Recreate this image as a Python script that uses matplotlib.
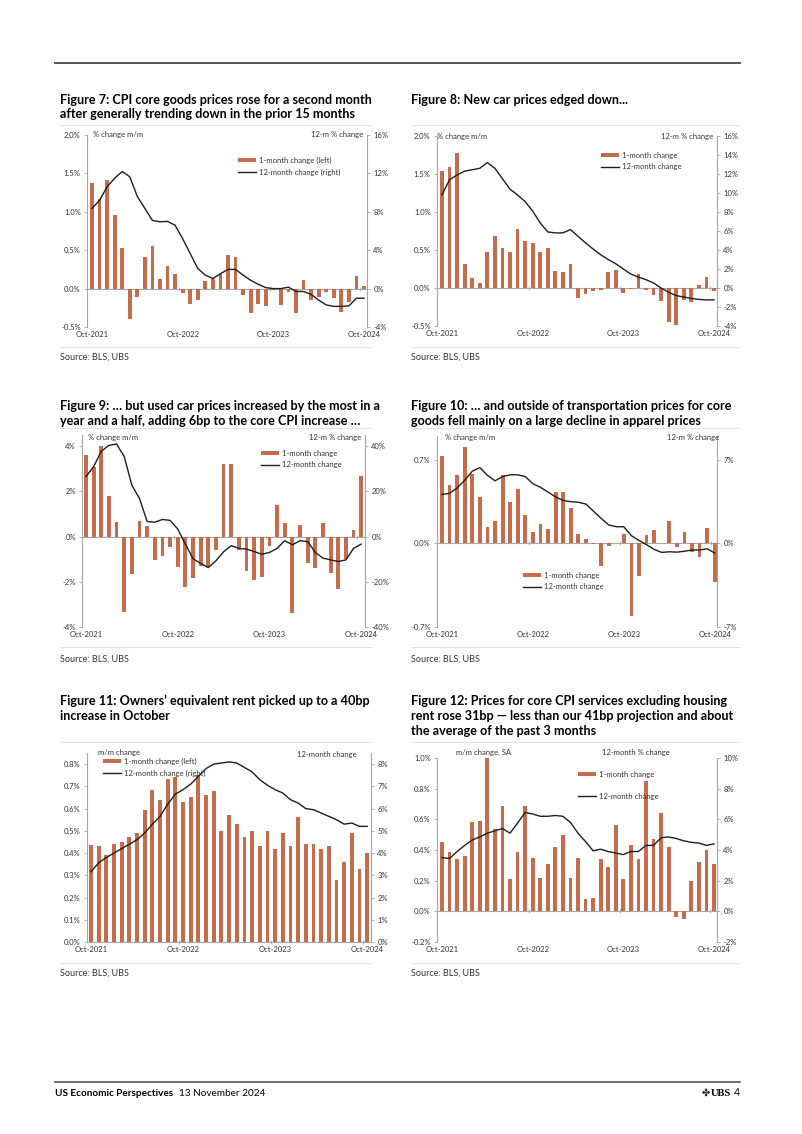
import matplotlib
matplotlib.use('Agg')
import matplotlib.pyplot as plt
from matplotlib.patches import Patch
from matplotlib.lines import Line2D
from matplotlib.ticker import FuncFormatter
import numpy as np

plt.rcParams['font.family'] = ['Lato', 'DejaVu Sans']

W, H = 802, 1134
BAR = '#c46c4c'
LINE = '#1e1e1e'
GREY = '#a6a6a6'
TXT = '#333333'

# Oct-2021 .. Oct-2024, monthly
x = np.arange(37)
xtick_pos = [0, 12, 24, 36]
xtick_lab = ['Oct-2021', 'Oct-2022', 'Oct-2023', 'Oct-2024']

# Figure 7: core goods
c7_bar = [1.37, 1.17, 1.41, 0.96, 0.53, -0.40, -0.11, 0.41, 0.55, 0.12, 0.30, 0.19, -0.06,
          -0.20, -0.15, 0.10, 0.13, 0.19, 0.44, 0.41, -0.08, -0.32, -0.20, -0.23, -0.02, -0.22,
          -0.05, -0.32, 0.11, -0.15, -0.11, -0.05, -0.12, -0.31, -0.17, 0.17, 0.04]
c7_line = [8.35, 9.2, 10.6, 11.5, 12.2, 11.65, 9.6, 8.35, 7.1, 6.96, 7.0, 6.6, 5.2, 3.65, 2.1,
           1.4, 1.05, 1.55, 2.0, 2.0, 1.4, 0.87, 0.45, 0.1, 0.0, 0.0, 0.15, -0.3, -0.3, -0.6,
           -1.2, -1.7, -1.85, -1.85, -1.8, -1.0, -1.0]

# Figure 8: new cars
c8_bar = [1.54, 1.59, 1.77, 0.32, 0.13, 0.07, 0.47, 0.68, 0.53, 0.48, 0.78, 0.62, 0.59, 0.48,
          0.53, 0.22, 0.21, 0.31, -0.13, -0.08, -0.04, -0.03, 0.21, 0.24, -0.06, -0.01, 0.18,
          -0.03, -0.09, -0.17, -0.45, -0.49, -0.16, -0.19, 0.04, 0.15, -0.04]
c8_line = [9.8, 11.4, 11.9, 12.3, 12.45, 12.6, 13.2, 12.6, 11.5, 10.4, 9.8, 9.1, 8.1, 6.85, 5.9,
           5.8, 5.8, 6.15, 5.45, 4.75, 4.1, 3.5, 3.0, 2.55, 2.0, 1.47, 1.15, 0.88, 0.53, 0.0,
           -0.45, -0.8, -0.95, -1.1, -1.2, -1.25, -1.25]

# Figure 9: used cars
c9_bar = [3.6, 3.1, 4.0, 1.8, 0.63, -3.35, -1.67, 0.7, 0.47, -1.05, -0.85, -0.45, -1.35, -2.25,
          -1.85, -1.3, -1.35, -0.6, 3.2, 3.2, -0.6, -1.5, -1.9, -1.8, -0.4, 1.4, 0.6, -3.4, 0.5,
          -1.15, -1.4, 0.6, -1.6, -2.3, -1.0, 0.3, 2.7]
c9_line = [26.6, 31.0, 37.8, 40.4, 41.0, 35.5, 22.8, 16.9, 6.7, 6.4, 7.6, 7.2, 3.4, -3.3, -9.7,
           -11.9, -13.7, -10.7, -6.7, -4.0, -5.2, -5.5, -6.6, -7.8, -7.0, -5.2, -1.8, -3.6, -1.8,
           -2.2, -7.0, -9.5, -10.3, -11.0, -10.3, -5.2, -3.3]

# Figure 10: core goods ex transportation
c10_bar = [0.73, 0.49, 0.57, 0.81, 0.58, 0.39, 0.14, 0.19, 0.57, 0.35, 0.46, 0.24, 0.10, 0.16,
           0.12, 0.43, 0.43, 0.30, 0.08, 0.04, -0.004, -0.19, -0.02, 0.0, 0.08, -0.61, -0.27,
           0.07, 0.11, 0.0, 0.19, -0.03, 0.10, -0.07, -0.11, 0.13, -0.32]
c10_line = [4.1, 4.2, 4.65, 5.3, 6.05, 6.35, 5.7, 5.25, 5.6, 5.75, 5.75, 5.6, 5.0, 4.7, 4.3, 3.9,
            3.6, 3.5, 3.45, 3.3, 2.7, 2.1, 1.55, 1.4, 1.4, 0.65, 0.25, -0.1, -0.5, -0.75, -0.7,
            -0.73, -0.65, -0.55, -0.55, -0.45, -0.8]

# Figure 11: owners' equivalent rent
c11_bar = [0.435, 0.43, 0.39, 0.44, 0.45, 0.47, 0.49, 0.595, 0.685, 0.64, 0.735, 0.74, 0.63,
           0.65, 0.75, 0.66, 0.68, 0.50, 0.57, 0.53, 0.47, 0.50, 0.43, 0.50, 0.42, 0.49, 0.43,
           0.56, 0.44, 0.44, 0.42, 0.43, 0.28, 0.36, 0.49, 0.33, 0.40]
c11_line = [3.16, 3.56, 3.8, 4.0, 4.2, 4.4, 4.6, 4.9, 5.3, 5.65, 6.2, 6.65, 6.85, 7.1, 7.45, 7.8,
            8.0, 8.05, 8.1, 8.05, 7.85, 7.65, 7.3, 7.05, 6.85, 6.7, 6.4, 6.25, 6.0, 5.95, 5.8,
            5.65, 5.5, 5.3, 5.35, 5.2, 5.2]

# Figure 12: core services ex housing
c12_bar = [0.45, 0.39, 0.34, 0.36, 0.58, 0.59, 1.01, 0.54, 0.69, 0.21, 0.39, 0.69, 0.35, 0.22,
           0.31, 0.42, 0.50, 0.22, 0.35, 0.08, 0.09, 0.34, 0.29, 0.56, 0.21, 0.43, 0.34, 0.85,
           0.47, 0.64, 0.42, -0.04, -0.05, 0.20, 0.32, 0.40, 0.31]
c12_line = [3.5, 3.45, 3.9, 4.3, 4.65, 4.85, 5.1, 5.25, 5.4, 5.1, 5.75, 6.45, 6.35, 6.2, 6.2,
            6.25, 6.2, 5.8, 5.1, 4.55, 3.95, 4.05, 3.9, 3.8, 3.7, 3.9, 3.9, 4.3, 4.3, 4.8, 4.85,
            4.75, 4.6, 4.5, 4.45, 4.3, 4.4]


def fx(px):
    return px / W


def fy(py):
    return 1 - py / H


def box(l, t, r, b):
    return [l / W, 1 - b / H, (r - l) / W, (b - t) / H]


def ftext(px, py, s, **kw):
    kw.setdefault('va', 'center')
    kw.setdefault('color', TXT)
    return fig.text(fx(px), fy(py), s, **kw)


def hline(x0, x1, py, color, lw):
    fig.add_artist(Line2D([fx(x0), fx(x1)], [fy(py), fy(py)], color=color, lw=lw,
                          transform=fig.transFigure))


def panel(rect, xlim, bars, line, ylim, yticks, lfmt, ylim2, yticks2, rfmt,
          leg_xy, leg_labels, leg_space=0.55):
    ax = fig.add_axes(box(*rect))
    ax.bar(x, bars, width=0.5, color=BAR, zorder=2)
    ax.set_xlim(*xlim)
    ax.set_ylim(*ylim)
    ax.set_yticks(yticks)
    ax.yaxis.set_major_formatter(FuncFormatter(lambda v, p: lfmt.format(v)))
    ax.set_xticks(xtick_pos)
    ax.set_xticklabels(xtick_lab)
    for s in ['top', 'bottom', 'right']:
        ax.spines[s].set_visible(False)
    ax.spines['left'].set_color(GREY)
    ax.spines['left'].set_linewidth(0.8)
    ax.tick_params(axis='y', direction='out', length=2.5, width=0.6, color=GREY,
                   labelsize=5.5, labelcolor=TXT, pad=2)
    ax.tick_params(axis='x', length=0, labelsize=5.5, labelcolor=TXT, pad=3)

    # zero line with small ticks between years
    sec = ax.secondary_xaxis(0, transform=ax.transData)
    sec.set_xticks([11.5, 23.5, 35.5])
    sec.tick_params(length=3, width=0.6, direction='inout', color=GREY, labelbottom=False)
    for s in sec.spines.values():
        s.set_color(GREY)
        s.set_linewidth(0.8)

    ax2 = ax.twinx()
    ax2.plot(x, line, color=LINE, lw=1.0, zorder=3)
    ax2.set_ylim(*ylim2)
    ax2.set_yticks(yticks2)
    ax2.yaxis.set_major_formatter(FuncFormatter(lambda v, p: rfmt.format(v)))
    for s in ['top', 'bottom', 'left']:
        ax2.spines[s].set_visible(False)
    ax2.spines['right'].set_color(GREY)
    ax2.spines['right'].set_linewidth(0.8)
    ax2.tick_params(axis='y', direction='out', length=2.5, width=0.6, color=GREY,
                    labelsize=5.5, labelcolor=TXT, pad=2)

    handles = [Patch(facecolor=BAR, edgecolor='none'), Line2D([], [], color=LINE, lw=1.0)]
    fig.legend(handles, leg_labels, loc='upper left',
               bbox_to_anchor=(fx(leg_xy[0]), fy(leg_xy[1])), frameon=False,
               fontsize=5.5, handlelength=2.4, handleheight=0.45, handletextpad=0.3,
               labelspacing=leg_space, borderpad=0, borderaxespad=0, labelcolor=TXT)
    return ax, ax2


fig = plt.figure(figsize=(W / 100, H / 100), dpi=100)

# page header line
hline(55, 740, 63, '#555555', 1.4)

TS = 9.1  # title size
SS = 6.5  # source size

# ---- Figure 7
ftext(60, 100, 'Figure 7: CPI core goods prices rose for a second month', fontsize=TS,
      fontweight='bold', color='black')
ftext(60, 114.5, 'after generally trending down in the prior 15 months', fontsize=TS,
      fontweight='bold', color='black')
hline(60, 372, 125, '#e2e2e2', 0.8)
panel((87, 135, 367, 327), (-0.66, 36.4), c7_bar, c7_line, (-0.5, 2.0),
      [-0.5, 0, 0.5, 1.0, 1.5, 2.0], '{:.1f}%', (-4, 16), [-4, 0, 4, 8, 12, 16], '{:.0f}%',
      (238, 157), ['1-month change (left)', '12-month change (right)'])
ftext(93, 135, '% change m/m', fontsize=5.5)
ftext(363, 135, '12-m % change', fontsize=5.5, ha='right')
hline(60, 372, 347, '#e2e2e2', 0.8)
ftext(60, 357, 'Source: BLS, UBS', fontsize=SS)

# ---- Figure 8
ftext(411, 100, 'Figure 8: New car prices edged down...', fontsize=TS, fontweight='bold',
      color='black')
hline(411, 740, 125, '#e2e2e2', 0.8)
panel((437, 136, 717, 326), (-0.66, 36.4), c8_bar, c8_line, (-0.5, 2.0),
      [-0.5, 0, 0.5, 1.0, 1.5, 2.0], '{:.1f}%', (-4, 16), list(range(-4, 17, 2)), '{:.0f}%',
      (601, 152), ['1-month change', '12-month change'])
ftext(437, 136, '% change m/m', fontsize=5.5)
ftext(713, 136, '12-m % change', fontsize=5.5, ha='right')
hline(411, 740, 347, '#e2e2e2', 0.8)
ftext(411, 357, 'Source: BLS, UBS', fontsize=SS)

# ---- Figure 9
ftext(60, 406, 'Figure 9: \u2026 but used car prices increased by the most in a', fontsize=TS,
      fontweight='bold', color='black')
ftext(60, 421, 'year and a half, adding 6bp to the core CPI increase \u2026', fontsize=TS,
      fontweight='bold', color='black')
hline(60, 372, 428, '#e2e2e2', 0.8)
panel((82, 435, 365, 627), (-0.52, 36.5), c9_bar, c9_line, (-4, 4.5),
      [-4, -2, 0, 2, 4], '{:.0f}%', (-40, 45), [-40, -20, 0, 20, 40], '{:.0f}%',
      (261, 450), ['1-month change', '12-month change'])
ftext(88, 437, '% change m/m', fontsize=5.5)
ftext(361, 437, '12-m % change', fontsize=5.5, ha='right')
hline(60, 372, 647, '#e2e2e2', 0.8)
ftext(60, 659, 'Source: BLS, UBS', fontsize=SS)

# ---- Figure 10
ftext(411, 406, 'Figure 10: \u2026 and outside of transportation prices for core', fontsize=TS,
      fontweight='bold', color='black')
ftext(411, 421, 'goods fell mainly on a large decline in apparel prices', fontsize=TS,
      fontweight='bold', color='black')
hline(411, 740, 428, '#e2e2e2', 0.8)
panel((437, 436, 717, 627), (-0.66, 36.3), c10_bar, c10_line, (-0.7, 0.9),
      [-0.7, 0, 0.7], '{:.1f}%', (-7, 9), [-7, 0, 7], '{:.0f}%',
      (523, 572), ['1-month change', '12-month change'])
ftext(445, 437, '% change m/m', fontsize=5.5)
ftext(719, 437, '12-m % change', fontsize=5.5, ha='right')
hline(411, 740, 647, '#e2e2e2', 0.8)
ftext(411, 659, 'Source: BLS, UBS', fontsize=SS)

# ---- Figure 11
ftext(60, 701, 'Figure 11: Owners\u2019 equivalent rent picked up to a 40bp', fontsize=TS,
      fontweight='bold', color='black')
ftext(60, 716, 'increase in October', fontsize=TS, fontweight='bold', color='black')
hline(60, 372, 742, '#e2e2e2', 0.8)
panel((87, 753, 371, 942), (-0.52, 36.5), c11_bar, c11_line, (0, 0.85),
      [0, 0.1, 0.2, 0.3, 0.4, 0.5, 0.6, 0.7, 0.8], '{:.1f}%', (0, 8.5), list(range(0, 9)),
      '{:.0f}%', (103, 758), ['1-month change (left)', '12-month change (right)'])
ftext(98, 752, 'm/m change', fontsize=5.5)
ftext(357, 754, '12-month change', fontsize=5.5, ha='right')
hline(60, 372, 963, '#e2e2e2', 0.8)
ftext(60, 973, 'Source: BLS, UBS', fontsize=SS)

# ---- Figure 12
ftext(411, 701, 'Figure 12: Prices for core CPI services excluding housing', fontsize=TS,
      fontweight='bold', color='black')
ftext(411, 716, 'rent rose 31bp \u2014 less than our 41bp projection and about', fontsize=TS,
      fontweight='bold', color='black')
ftext(411, 731, 'the average of the past 3 months', fontsize=TS, fontweight='bold',
      color='black')
hline(411, 740, 742, '#e2e2e2', 0.8)
panel((437, 758, 717, 942), (-0.66, 36.4), c12_bar, c12_line, (-0.2, 1.0),
      [-0.2, 0, 0.2, 0.4, 0.6, 0.8, 1.0], '{:.1f}%', (-2, 10), [-2, 0, 2, 4, 6, 8, 10],
      '{:.0f}%', (578, 771), ['1-month change', '12-month change'], leg_space=1.9)
ftext(456, 752, 'm/m change, SA', fontsize=5.5)
ftext(670, 752, '12-month % change', fontsize=5.5, ha='right')
hline(411, 740, 963, '#e2e2e2', 0.8)
ftext(411, 973, 'Source: BLS, UBS', fontsize=SS)

# ---- footer
hline(55, 740, 1082, '#555555', 1.2)
t = ftext(55, 1093, 'US Economic Perspectives', fontsize=7.2, fontweight='bold', color='black')
r = fig.canvas.get_renderer()
end = t.get_window_extent(renderer=r).x1
ftext(end + 6, 1093, '13 November 2024', fontsize=7.2, color='black')
ftext(702, 1093, '\u2724', fontsize=7, color='#222222', family='DejaVu Sans')
ftext(711, 1093, 'UBS', fontsize=7.6, fontweight='bold', color='black',
      family='Liberation Serif')
ftext(740, 1093, '4', fontsize=7.6, color='black', ha='right')

fig.savefig('out.png', dpi=100)
